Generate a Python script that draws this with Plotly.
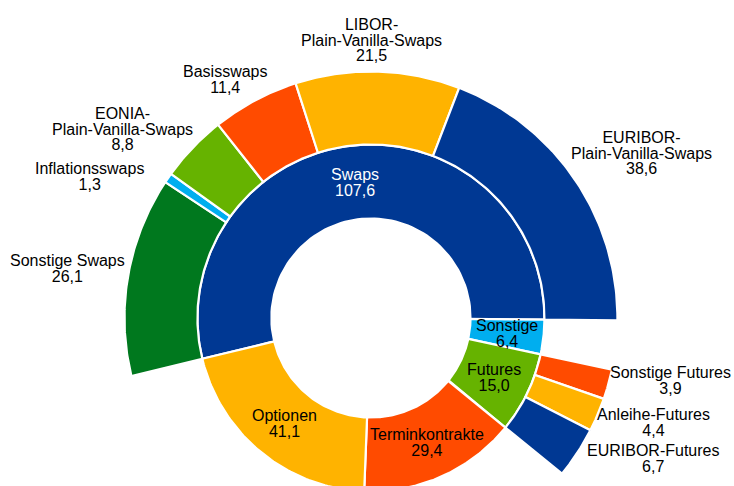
import numpy as np
import plotly.graph_objects as go

# Inner ring: turnover by instrument group
segments = ["Swaps", "Sonstige", "Futures", "Terminkontrakte", "Optionen"]
segment_values = [107.6, 6.4, 15.0, 29.4, 41.1]

# Outer ring: breakdown of swaps
swap_types = ["Sonstige Swaps", "Inflationsswaps", "EONIA-<br>Plain-Vanilla-Swaps",
              "Basisswaps", "LIBOR-<br>Plain-Vanilla-Swaps", "EURIBOR-<br>Plain-Vanilla-Swaps"]
swap_values = [26.1, 1.3, 8.8, 11.4, 21.5, 38.6]

# Outer ring: breakdown of futures
future_types = ["Sonstige Futures", "Anleihe-Futures", "EURIBOR-Futures"]
future_values = [3.9, 4.4, 6.7]

# Colours
BLUE = "#003893"
CYAN = "#00AEEF"
LGREEN = "#66B300"
DGREEN = "#00781E"
RED = "#FF4B00"
ORANGE = "#FFB300"
segment_colors = [BLUE, CYAN, LGREEN, RED, ORANGE]
swap_colors = [DGREEN, CYAN, LGREEN, RED, ORANGE, BLUE]
future_colors = [RED, ORANGE, BLUE]

# Ring geometry (outer radius = 1)
R_HOLE, R_SPLIT, R_OUTER = 0.404, 0.704, 1.0
START_DEG = 193.6          # Swaps start here; sectors run clockwise
FONT = "Liberation Sans, Arial, sans-serif"
GLYPH_SIZE = 16            # visible glyph size
LINE_STEP = 15.5           # px between text lines
BASE_SIZE = LINE_STEP / 1.3  # base size sets the line spacing

# Where the outer labels sit: (radius, angle in degrees)
OUTER_LABEL_AT = {
    "EURIBOR-<br>Plain-Vanilla-Swaps": (1.287, 31.3),
    "LIBOR-<br>Plain-Vanilla-Swaps": (1.128, 89.8),
    "Basisswaps": (1.133, 121.5),
    "EONIA-<br>Plain-Vanilla-Swaps": (1.265, 142.7),
    "Inflationsswaps": (1.278, 153.3),
    "Sonstige Swaps": (1.247, 170.8),
    "Sonstige Futures": (1.243, -11.8),
    "Anleihe-Futures": (1.223, -20.2),
    "EURIBOR-Futures": (1.280, -26.5),
}


def fmt(v):
    return f"{v:.1f}".replace(".", ",")


def spans(values, start, extent):
    """Split an angular extent (clockwise from start) in proportion to values."""
    total = sum(values)
    out, a = [], start
    for v in values:
        b = a - extent * v / total
        out.append((a, b))
        a = b
    return out


def wedge(a0, a1, r0, r1, n=80):
    t = np.radians(np.linspace(a0, a1, n))
    x = np.concatenate([r1 * np.cos(t), r0 * np.cos(t[::-1])])
    y = np.concatenate([r1 * np.sin(t), r0 * np.sin(t[::-1])])
    return np.append(x, x[0]), np.append(y, y[0])


def polar_xy(r, deg):
    return r * np.cos(np.radians(deg)), r * np.sin(np.radians(deg))


inner_spans = spans(segment_values, START_DEG, 360.0)
sw0, sw1 = inner_spans[segments.index("Swaps")]
fu0, fu1 = inner_spans[segments.index("Futures")]
swap_spans = spans(swap_values, sw0, sw0 - sw1)
future_spans = spans(future_values, fu0, fu0 - fu1)

fig = go.Figure()


def add_ring(names, spans_, colors, r0, r1):
    for name, (a0, a1), c in zip(names, spans_, colors):
        x, y = wedge(a0, a1, r0, r1)
        fig.add_trace(go.Scatter(
            x=x, y=y, mode="lines", fill="toself", fillcolor=c,
            line=dict(color="white", width=2.2), name=name.replace("<br>", ""),
            hoverinfo="name", showlegend=False))


add_ring(segments, inner_spans, segment_colors, R_HOLE, R_SPLIT)
add_ring(swap_types, swap_spans, swap_colors, R_SPLIT, R_OUTER)
add_ring(future_types, future_spans, future_colors, R_SPLIT, R_OUTER)

annotations = []


def add_label(x, y, lines, color):
    text = "<br>".join(
        f'<span style="font-size:{GLYPH_SIZE}px">{line}</span>' for line in lines)
    annotations.append(dict(
        x=x, y=y, xref="x", yref="y", text=text, showarrow=False,
        xanchor="center", yanchor="middle", align="center",
        font=dict(family=FONT, size=BASE_SIZE, color=color)))


# Inner labels: centred in their sector
r_mid = (R_HOLE + R_SPLIT) / 2
for name, v, (a0, a1) in zip(segments, segment_values, inner_spans):
    x, y = polar_xy(r_mid, (a0 + a1) / 2)
    add_label(x, y, [name, fmt(v)], "white" if name == "Swaps" else "black")

# Outer labels
for names, values in ((swap_types, swap_values), (future_types, future_values)):
    for name, v in zip(names, values):
        r, deg = OUTER_LABEL_AT[name]
        x, y = polar_xy(r, deg)
        add_label(x, y, name.split("<br>") + [fmt(v)], "black")

fig.update_layout(
    width=734, height=486,
    margin=dict(l=0, r=0, t=0, b=0),
    paper_bgcolor="white", plot_bgcolor="white",
    showlegend=False,
    annotations=annotations,
    xaxis=dict(visible=False, range=[-1.505, 1.473], fixedrange=True),
    yaxis=dict(visible=False, range=[-0.6815, 1.290], fixedrange=True,
               scaleanchor="x", scaleratio=1),
)

fig.write_html("out.html")
